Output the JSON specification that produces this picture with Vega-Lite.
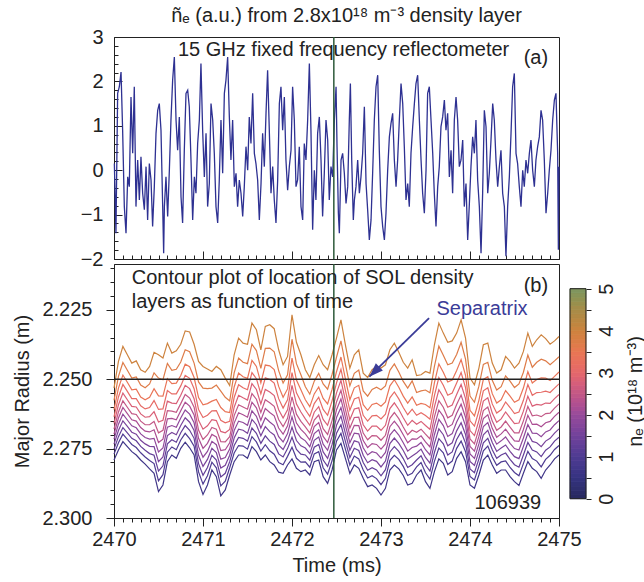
{
"$schema":"https://vega.github.io/schema/vega-lite/v6.json",
"padding":{"left":12,"top":5,"right":0,"bottom":0},
"spacing":5,
"bounds":"flush",
"config":{
 "font":"Liberation Sans",
 "view":{"stroke":"#222","strokeWidth":1},
 "axis":{"labelFont":"Liberation Sans","labelFontSize":20,"labelColor":"#222","titleFont":"Liberation Sans","titleFontSize":20,"titleFontWeight":"normal","titleColor":"#222","domainColor":"#222","tickColor":"#222","grid":false,"labelOverlap":false,"labelBound":false,"labelFlush":false},
 "title":{"font":"Liberation Sans","fontSize":20,"fontWeight":"normal","color":"#222"},
 "text":{"font":"Liberation Sans","fontSize":20,"color":"#222"}
},
"datasets":{
"sig":[
{"t":2470.004,"v":0.15},{"t":2470.022,"v":-1.42},{"t":2470.041,"v":1.73},{"t":2470.06,"v":1.88},{"t":2470.079,"v":2.21},{"t":2470.097,"v":0.9},{"t":2470.116,"v":-0.82},{"t":2470.135,"v":-1.42},{"t":2470.154,"v":-0.15},{"t":2470.172,"v":-0.37},{"t":2470.191,"v":1.65},{"t":2470.21,"v":0.38},{"t":2470.228,"v":1.88},{"t":2470.247,"v":-0.82},{"t":2470.266,"v":0.23},{"t":2470.285,"v":-0.67},{"t":2470.303,"v":0.3},{"t":2470.322,"v":-0.52},{"t":2470.341,"v":-0.89},{"t":2470.36,"v":0.08},{"t":2470.378,"v":-1.12},{"t":2470.397,"v":0.15},{"t":2470.416,"v":-0.22},{"t":2470.434,"v":-1.27},{"t":2470.453,"v":-0.37},{"t":2470.472,"v":0.83},{"t":2470.491,"v":1.35},{"t":2470.509,"v":1.5},{"t":2470.528,"v":0.9},{"t":2470.547,"v":-0.82},{"t":2470.558,"v":-1.87},{"t":2470.566,"v":-0.82},{"t":2470.584,"v":-0.15},{"t":2470.603,"v":-1.04},{"t":2470.622,"v":0},{"t":2470.64,"v":1.13},{"t":2470.659,"v":2.03},{"t":2470.678,"v":2.55},{"t":2470.697,"v":1.13},{"t":2470.715,"v":0.45},{"t":2470.734,"v":1.2},{"t":2470.753,"v":-0.6},{"t":2470.771,"v":-1.19},{"t":2470.79,"v":0.45},{"t":2470.809,"v":1.73},{"t":2470.828,"v":1.8},{"t":2470.846,"v":1.43},{"t":2470.865,"v":0.23},{"t":2470.884,"v":-1.12},{"t":2470.903,"v":-0.15},{"t":2470.921,"v":-0.52},{"t":2470.94,"v":0.6},{"t":2470.959,"v":1.13},{"t":2470.977,"v":2.4},{"t":2470.996,"v":0.9},{"t":2471.015,"v":-0.15},{"t":2471.034,"v":0.83},{"t":2471.052,"v":-0.82},{"t":2471.071,"v":-0.3},{"t":2471.09,"v":1.5},{"t":2471.109,"v":1.13},{"t":2471.127,"v":0.38},{"t":2471.146,"v":-0.82},{"t":2471.165,"v":-1.19},{"t":2471.183,"v":-0.22},{"t":2471.202,"v":1.13},{"t":2471.221,"v":-0.07},{"t":2471.24,"v":1.73},{"t":2471.258,"v":2.03},{"t":2471.277,"v":2.55},{"t":2471.296,"v":1.2},{"t":2471.314,"v":0.23},{"t":2471.333,"v":1.13},{"t":2471.352,"v":-0.37},{"t":2471.371,"v":-0.07},{"t":2471.389,"v":-0.82},{"t":2471.408,"v":-0.22},{"t":2471.427,"v":-0.52},{"t":2471.446,"v":-1.04},{"t":2471.464,"v":-0.37},{"t":2471.483,"v":0.53},{"t":2471.502,"v":0},{"t":2471.52,"v":1.2},{"t":2471.539,"v":0.6},{"t":2471.558,"v":1.73},{"t":2471.577,"v":0.38},{"t":2471.595,"v":0.15},{"t":2471.614,"v":-0.22},{"t":2471.633,"v":-1.12},{"t":2471.652,"v":-0.3},{"t":2471.67,"v":0.83},{"t":2471.689,"v":0.08},{"t":2471.708,"v":1.28},{"t":2471.726,"v":2.25},{"t":2471.745,"v":0.9},{"t":2471.764,"v":-0.52},{"t":2471.783,"v":0.08},{"t":2471.801,"v":-0.67},{"t":2471.82,"v":-1.19},{"t":2471.839,"v":-0.22},{"t":2471.858,"v":1.5},{"t":2471.876,"v":1.88},{"t":2471.895,"v":0.9},{"t":2471.914,"v":1.65},{"t":2471.932,"v":0.23},{"t":2471.951,"v":-0.45},{"t":2471.97,"v":0.08},{"t":2471.989,"v":0.45},{"t":2472.007,"v":1.88},{"t":2472.026,"v":1.13},{"t":2472.045,"v":-0.37},{"t":2472.063,"v":-0.22},{"t":2472.082,"v":0.53},{"t":2472.101,"v":-0.82},{"t":2472.12,"v":-1.12},{"t":2472.138,"v":0.6},{"t":2472.157,"v":0.23},{"t":2472.176,"v":1.13},{"t":2472.195,"v":2.4},{"t":2472.213,"v":0.9},{"t":2472.232,"v":-1.34},{"t":2472.251,"v":0},{"t":2472.269,"v":-0.67},{"t":2472.288,"v":0.83},{"t":2472.307,"v":1.2},{"t":2472.326,"v":0.23},{"t":2472.344,"v":-1.04},{"t":2472.363,"v":-0.07},{"t":2472.382,"v":1.13},{"t":2472.401,"v":0.68},{"t":2472.419,"v":-0.67},{"t":2472.438,"v":0.08},
{"t":2472.457,"v":-0.15},{"t":2472.476,"v":1.13},{"t":2472.495,"v":1.88},{"t":2472.506,"v":0.53},{"t":2472.521,"v":-0.97},{"t":2472.532,"v":-1.42},{"t":2472.551,"v":0.23},{"t":2472.569,"v":0.38},{"t":2472.588,"v":-0.07},{"t":2472.607,"v":-0.75},{"t":2472.626,"v":-0.37},{"t":2472.644,"v":1.13},{"t":2472.656,"v":1.95},{"t":2472.671,"v":0.23},{"t":2472.689,"v":-1.12},{"t":2472.701,"v":-0.67},{"t":2472.719,"v":-0.37},{"t":2472.738,"v":0.23},{"t":2472.757,"v":-0.52},{"t":2472.775,"v":-0.15},{"t":2472.794,"v":0.38},{"t":2472.813,"v":1.43},{"t":2472.832,"v":-0.3},{"t":2472.85,"v":-0.89},{"t":2472.869,"v":-1.57},{"t":2472.888,"v":-1.12},{"t":2472.906,"v":-0.07},{"t":2472.925,"v":1.13},{"t":2472.944,"v":1.88},{"t":2472.963,"v":2.14},{"t":2472.981,"v":0.45},{"t":2473.0,"v":-0.82},{"t":2473.019,"v":-1.27},{"t":2473.038,"v":-1.57},{"t":2473.056,"v":-0.97},{"t":2473.075,"v":0},{"t":2473.094,"v":0.75},{"t":2473.112,"v":1.05},{"t":2473.131,"v":1.28},{"t":2473.15,"v":0.23},{"t":2473.169,"v":-0.37},{"t":2473.187,"v":0.23},{"t":2473.206,"v":1.13},{"t":2473.225,"v":1.95},{"t":2473.244,"v":1.5},{"t":2473.262,"v":0.53},{"t":2473.281,"v":-0.67},{"t":2473.3,"v":-0.3},{"t":2473.318,"v":-0.82},{"t":2473.337,"v":0.38},{"t":2473.356,"v":0.98},{"t":2473.375,"v":1.5},{"t":2473.393,"v":1.95},{"t":2473.412,"v":2.14},{"t":2473.431,"v":1.13},{"t":2473.45,"v":0.23},{"t":2473.468,"v":-0.52},{"t":2473.487,"v":-0.97},{"t":2473.506,"v":0},{"t":2473.524,"v":1.73},{"t":2473.543,"v":1.88},{"t":2473.562,"v":1.13},{"t":2473.581,"v":0.38},{"t":2473.599,"v":-0.52},{"t":2473.618,"v":-1.27},{"t":2473.637,"v":-0.37},{"t":2473.655,"v":0.08},{"t":2473.674,"v":0.98},{"t":2473.693,"v":1.2},{"t":2473.712,"v":1.58},{"t":2473.73,"v":0.9},{"t":2473.749,"v":1.28},{"t":2473.768,"v":-0.15},{"t":2473.787,"v":0.45},{"t":2473.805,"v":-0.52},{"t":2473.824,"v":1.13},{"t":2473.843,"v":1.65},{"t":2473.861,"v":1.13},{"t":2473.88,"v":0.08},{"t":2473.899,"v":0.23},{"t":2473.918,"v":0.68},{"t":2473.936,"v":-0.82},{"t":2473.955,"v":-0.3},{"t":2473.974,"v":-1.57},{"t":2473.993,"v":-0.75},{"t":2474.011,"v":0.08},{"t":2474.03,"v":0.75},{"t":2474.049,"v":0.38},{"t":2474.067,"v":1.13},{"t":2474.086,"v":-0.22},{"t":2474.105,"v":-0.82},{"t":2474.124,"v":-1.87},{"t":2474.142,"v":-0.52},{"t":2474.161,"v":1.35},{"t":2474.18,"v":0.98},{"t":2474.199,"v":-0.52},{"t":2474.217,"v":-0.07},{"t":2474.236,"v":0.68},{"t":2474.255,"v":1.5},{"t":2474.273,"v":1.13},{"t":2474.292,"v":0.23},{"t":2474.311,"v":-0.37},{"t":2474.33,"v":0.08},{"t":2474.348,"v":0.45},{"t":2474.367,"v":-0.52},{"t":2474.386,"v":-0.82},{"t":2474.404,"v":-1.94},{"t":2474.423,"v":-0.82},{"t":2474.442,"v":-0.15},{"t":2474.461,"v":0.83},{"t":2474.479,"v":1.88},{"t":2474.498,"v":2.18},{"t":2474.517,"v":0.38},{"t":2474.535,"v":0.15},{"t":2474.554,"v":-0.37},{"t":2474.573,"v":-0.82},{"t":2474.592,"v":0},{"t":2474.61,"v":-0.37},{"t":2474.629,"v":0.23},{"t":2474.648,"v":-0.07},{"t":2474.667,"v":0.38},{"t":2474.685,"v":0.68},{"t":2474.704,"v":0},{"t":2474.723,"v":-0.37},{"t":2474.741,"v":0.23},{"t":2474.76,"v":0.53},{"t":2474.779,"v":0.75},{"t":2474.798,"v":1.35},{"t":2474.816,"v":1.13},{"t":2474.835,"v":0.23},{"t":2474.854,"v":-0.97},{"t":2474.873,"v":-0.52},{"t":2474.891,"v":0},{"t":2474.91,"v":0.45},{"t":2474.929,"v":1.13},{"t":2474.948,"v":1.58},{"t":2474.966,"v":1.73},{"t":2474.985,"v":0.38},{"t":2474.993,"v":-1.79},{"t":2475.0,"v":0.08}
],
"cont":[
{"t":2470,"a":2.2532,"b":2.2576,"c":2.2610,"d":2.2636,"e":2.2659,"f":2.2680,"g":2.2698,"h":2.2716,"i":2.2734,"j":2.2752,"k":2.2770,"l":2.2791},
{"t":2470.05,"a":2.2436,"b":2.2490,"c":2.2532,"d":2.2564,"e":2.2592,"f":2.2618,"g":2.2640,"h":2.2662,"i":2.2685,"j":2.2707,"k":2.2729,"l":2.2755},
{"t":2470.1,"a":2.2382,"b":2.2440,"c":2.2485,"d":2.2519,"e":2.2550,"f":2.2578,"g":2.2602,"h":2.2626,"i":2.2650,"j":2.2674,"k":2.2698,"l":2.2725},
{"t":2470.15,"a":2.2412,"b":2.2468,"c":2.2511,"d":2.2544,"e":2.2574,"f":2.2601,"g":2.2624,"h":2.2647,"i":2.2670,"j":2.2693,"k":2.2717,"l":2.2743},
{"t":2470.2,"a":2.2442,"b":2.2496,"c":2.2538,"d":2.2570,"e":2.2598,"f":2.2624,"g":2.2646,"h":2.2668,"i":2.2691,"j":2.2713,"k":2.2735,"l":2.2761},
{"t":2470.25,"a":2.2434,"b":2.2492,"c":2.2536,"d":2.2570,"e":2.2600,"f":2.2627,"g":2.2651,"h":2.2675,"i":2.2698,"j":2.2722,"k":2.2746,"l":2.2773},
{"t":2470.3,"a":2.2466,"b":2.2521,"c":2.2564,"d":2.2596,"e":2.2625,"f":2.2651,"g":2.2674,"h":2.2697,"i":2.2720,"j":2.2742,"k":2.2765,"l":2.2791},
{"t":2470.35,"a":2.2475,"b":2.2531,"c":2.2574,"d":2.2607,"e":2.2637,"f":2.2664,"g":2.2687,"h":2.2710,"i":2.2733,"j":2.2756,"k":2.2780,"l":2.2806},
{"t":2470.4,"a":2.2454,"b":2.2517,"c":2.2565,"d":2.2602,"e":2.2635,"f":2.2664,"g":2.2690,"h":2.2716,"i":2.2742,"j":2.2768,"k":2.2793,"l":2.2823},
{"t":2470.45,"a":2.2403,"b":2.2477,"c":2.2534,"d":2.2577,"e":2.2617,"f":2.2652,"g":2.2682,"h":2.2713,"i":2.2743,"j":2.2774,"k":2.2804,"l":2.2839},
{"t":2470.5,"a":2.2412,"b":2.2496,"c":2.2560,"d":2.2609,"e":2.2654,"f":2.2693,"g":2.2728,"h":2.2762,"i":2.2797,"j":2.2831,"k":2.2866,"l":2.2905},
{"t":2470.55,"a":2.2424,"b":2.2502,"c":2.2561,"d":2.2607,"e":2.2648,"f":2.2684,"g":2.2716,"h":2.2748,"i":2.2780,"j":2.2812,"k":2.2844,"l":2.2881},
{"t":2470.6,"a":2.2370,"b":2.2443,"c":2.2498,"d":2.2541,"e":2.2579,"f":2.2613,"g":2.2643,"h":2.2673,"i":2.2703,"j":2.2733,"k":2.2763,"l":2.2797},
{"t":2470.65,"a":2.2406,"b":2.2468,"c":2.2516,"d":2.2553,"e":2.2586,"f":2.2615,"g":2.2641,"h":2.2667,"i":2.2692,"j":2.2718,"k":2.2744,"l":2.2773},
{"t":2470.7,"a":2.2398,"b":2.2464,"c":2.2514,"d":2.2553,"e":2.2588,"f":2.2619,"g":2.2646,"h":2.2673,"i":2.2700,"j":2.2727,"k":2.2754,"l":2.2785},
{"t":2470.75,"a":2.2374,"b":2.2438,"c":2.2487,"d":2.2524,"e":2.2558,"f":2.2588,"g":2.2614,"h":2.2640,"i":2.2667,"j":2.2693,"k":2.2719,"l":2.2749},
{"t":2470.8,"a":2.2326,"b":2.2394,"c":2.2446,"d":2.2486,"e":2.2522,"f":2.2555,"g":2.2583,"h":2.2611,"i":2.2639,"j":2.2667,"k":2.2695,"l":2.2727},
{"t":2470.85,"a":2.2330,"b":2.2401,"c":2.2455,"d":2.2497,"e":2.2534,"f":2.2568,"g":2.2597,"h":2.2626,"i":2.2655,"j":2.2684,"k":2.2714,"l":2.2747},
{"t":2470.9,"a":2.2374,"b":2.2442,"c":2.2494,"d":2.2534,"e":2.2570,"f":2.2601,"g":2.2629,"h":2.2657,"i":2.2685,"j":2.2713,"k":2.2741,"l":2.2773},
{"t":2470.95,"a":2.2436,"b":2.2510,"c":2.2566,"d":2.2609,"e":2.2648,"f":2.2683,"g":2.2713,"h":2.2743,"i":2.2774,"j":2.2804,"k":2.2834,"l":2.2869},
{"t":2471,"a":2.2454,"b":2.2532,"c":2.2592,"d":2.2638,"e":2.2680,"f":2.2717,"g":2.2749,"h":2.2781,"i":2.2814,"j":2.2846,"k":2.2878,"l":2.2915},
{"t":2471.05,"a":2.2463,"b":2.2534,"c":2.2588,"d":2.2630,"e":2.2668,"f":2.2701,"g":2.2731,"h":2.2760,"i":2.2789,"j":2.2818,"k":2.2848,"l":2.2881},
{"t":2471.1,"a":2.2472,"b":2.2532,"c":2.2579,"d":2.2614,"e":2.2646,"f":2.2674,"g":2.2699,"h":2.2724,"i":2.2749,"j":2.2774,"k":2.2799,"l":2.2827},
{"t":2471.15,"a":2.2454,"b":2.2521,"c":2.2573,"d":2.2613,"e":2.2649,"f":2.2680,"g":2.2708,"h":2.2736,"i":2.2764,"j":2.2791,"k":2.2819,"l":2.2851},
{"t":2471.2,"a":2.2466,"b":2.2543,"c":2.2602,"d":2.2648,"e":2.2688,"f":2.2725,"g":2.2757,"h":2.2788,"i":2.2820,"j":2.2852,"k":2.2884,"l":2.2920},
{"t":2471.25,"a":2.2496,"b":2.2565,"c":2.2617,"d":2.2657,"e":2.2693,"f":2.2726,"g":2.2754,"h":2.2782,"i":2.2810,"j":2.2839,"k":2.2867,"l":2.2899},
{"t":2471.3,"a":2.2523,"b":2.2578,"c":2.2620,"d":2.2652,"e":2.2681,"f":2.2707,"g":2.2729,"h":2.2752,"i":2.2774,"j":2.2797,"k":2.2819,"l":2.2845},
{"t":2471.35,"a":2.2412,"b":2.2477,"c":2.2528,"d":2.2566,"e":2.2601,"f":2.2631,"g":2.2658,"h":2.2685,"i":2.2712,"j":2.2739,"k":2.2766,"l":2.2797},
{"t":2471.4,"a":2.2352,"b":2.2424,"c":2.2478,"d":2.2520,"e":2.2558,"f":2.2592,"g":2.2621,"h":2.2651,"i":2.2680,"j":2.2710,"k":2.2739,"l":2.2773},
{"t":2471.45,"a":2.2370,"b":2.2439,"c":2.2491,"d":2.2531,"e":2.2567,"f":2.2600,"g":2.2628,"h":2.2656,"i":2.2684,"j":2.2713,"k":2.2741,"l":2.2773},
{"t":2471.5,"a":2.2374,"b":2.2444,"c":2.2497,"d":2.2538,"e":2.2575,"f":2.2608,"g":2.2637,"h":2.2666,"i":2.2695,"j":2.2723,"k":2.2752,"l":2.2785},
{"t":2471.55,"a":2.2298,"b":2.2374,"c":2.2432,"d":2.2476,"e":2.2516,"f":2.2552,"g":2.2583,"h":2.2614,"i":2.2645,"j":2.2676,"k":2.2707,"l":2.2743},
{"t":2471.6,"a":2.2322,"b":2.2397,"c":2.2454,"d":2.2498,"e":2.2537,"f":2.2572,"g":2.2603,"h":2.2634,"i":2.2664,"j":2.2695,"k":2.2726,"l":2.2761},
{"t":2471.65,"a":2.2394,"b":2.2461,"c":2.2513,"d":2.2553,"e":2.2589,"f":2.2620,"g":2.2648,"h":2.2676,"i":2.2704,"j":2.2731,"k":2.2759,"l":2.2791},
{"t":2471.7,"a":2.2310,"b":2.2389,"c":2.2449,"d":2.2495,"e":2.2537,"f":2.2574,"g":2.2606,"h":2.2639,"i":2.2671,"j":2.2704,"k":2.2736,"l":2.2773},
{"t":2471.75,"a":2.2304,"b":2.2388,"c":2.2452,"d":2.2501,"e":2.2546,"f":2.2585,"g":2.2620,"h":2.2654,"i":2.2689,"j":2.2723,"k":2.2758,"l":2.2797},
{"t":2471.8,"a":2.2318,"b":2.2401,"c":2.2465,"d":2.2514,"e":2.2559,"f":2.2598,"g":2.2632,"h":2.2667,"i":2.2701,"j":2.2735,"k":2.2770,"l":2.2809},
{"t":2471.85,"a":2.2394,"b":2.2469,"c":2.2526,"d":2.2570,"e":2.2610,"f":2.2645,"g":2.2676,"h":2.2707,"i":2.2738,"j":2.2769,"k":2.2800,"l":2.2835},
{"t":2471.9,"a":2.2448,"b":2.2514,"c":2.2565,"d":2.2604,"e":2.2640,"f":2.2671,"g":2.2698,"h":2.2726,"i":2.2753,"j":2.2780,"k":2.2808,"l":2.2839},
{"t":2471.95,"a":2.2418,"b":2.2484,"c":2.2535,"d":2.2574,"e":2.2610,"f":2.2641,"g":2.2668,"h":2.2696,"i":2.2723,"j":2.2750,"k":2.2778,"l":2.2809},
{"t":2472,"a":2.2268,"b":2.2356,"c":2.2424,"d":2.2476,"e":2.2522,"f":2.2564,"g":2.2600,"h":2.2636,"i":2.2673,"j":2.2709,"k":2.2745,"l":2.2787},
{"t":2472.05,"a":2.2367,"b":2.2444,"c":2.2503,"d":2.2549,"e":2.2589,"f":2.2626,"g":2.2658,"h":2.2689,"i":2.2721,"j":2.2753,"k":2.2785,"l":2.2821},
{"t":2472.1,"a":2.2412,"b":2.2484,"c":2.2538,"d":2.2580,"e":2.2618,"f":2.2652,"g":2.2681,"h":2.2711,"i":2.2740,"j":2.2770,"k":2.2799,"l":2.2833},
{"t":2472.15,"a":2.2466,"b":2.2527,"c":2.2574,"d":2.2610,"e":2.2643,"f":2.2672,"g":2.2697,"h":2.2722,"i":2.2748,"j":2.2773,"k":2.2798,"l":2.2827},
{"t":2472.2,"a":2.2494,"b":2.2554,"c":2.2599,"d":2.2634,"e":2.2666,"f":2.2694,"g":2.2719,"h":2.2743,"i":2.2768,"j":2.2792,"k":2.2817,"l":2.2845},
{"t":2472.25,"a":2.2448,"b":2.2507,"c":2.2553,"d":2.2588,"e":2.2619,"f":2.2647,"g":2.2671,"h":2.2696,"i":2.2720,"j":2.2745,"k":2.2769,"l":2.2797},
{"t":2472.3,"a":2.2415,"b":2.2479,"c":2.2528,"d":2.2565,"e":2.2599,"f":2.2629,"g":2.2656,"h":2.2682,"i":2.2708,"j":2.2735,"k":2.2761,"l":2.2791},
{"t":2472.35,"a":2.2448,"b":2.2517,"c":2.2569,"d":2.2609,"e":2.2645,"f":2.2678,"g":2.2706,"h":2.2734,"i":2.2762,"j":2.2791,"k":2.2819,"l":2.2851},
{"t":2472.4,"a":2.2466,"b":2.2536,"c":2.2589,"d":2.2630,"e":2.2666,"f":2.2699,"g":2.2728,"h":2.2756,"i":2.2785,"j":2.2814,"k":2.2842,"l":2.2875},
{"t":2472.45,"a":2.2412,"b":2.2483,"c":2.2537,"d":2.2578,"e":2.2615,"f":2.2649,"g":2.2678,"h":2.2707,"i":2.2736,"j":2.2765,"k":2.2794,"l":2.2827},
{"t":2472.5,"a":2.2352,"b":2.2421,"c":2.2473,"d":2.2513,"e":2.2549,"f":2.2582,"g":2.2610,"h":2.2638,"i":2.2666,"j":2.2695,"k":2.2723,"l":2.2755},
{"t":2472.55,"a":2.2286,"b":2.2362,"c":2.2420,"d":2.2464,"e":2.2504,"f":2.2540,"g":2.2571,"h":2.2602,"i":2.2633,"j":2.2664,"k":2.2695,"l":2.2731},
{"t":2472.6,"a":2.2376,"b":2.2446,"c":2.2499,"d":2.2540,"e":2.2576,"f":2.2609,"g":2.2638,"h":2.2666,"i":2.2695,"j":2.2724,"k":2.2752,"l":2.2785},
{"t":2472.65,"a":2.2460,"b":2.2524,"c":2.2574,"d":2.2612,"e":2.2646,"f":2.2676,"g":2.2703,"h":2.2729,"i":2.2756,"j":2.2782,"k":2.2809,"l":2.2839},
{"t":2472.7,"a":2.2412,"b":2.2479,"c":2.2531,"d":2.2571,"e":2.2607,"f":2.2638,"g":2.2666,"h":2.2694,"i":2.2722,"j":2.2749,"k":2.2777,"l":2.2809},
{"t":2472.75,"a":2.2394,"b":2.2467,"c":2.2522,"d":2.2565,"e":2.2603,"f":2.2637,"g":2.2667,"h":2.2697,"i":2.2727,"j":2.2757,"k":2.2787,"l":2.2821},
{"t":2472.8,"a":2.2478,"b":2.2542,"c":2.2592,"d":2.2630,"e":2.2664,"f":2.2694,"g":2.2721,"h":2.2747,"i":2.2774,"j":2.2800,"k":2.2827,"l":2.2857},
{"t":2472.85,"a":2.2494,"b":2.2561,"c":2.2612,"d":2.2651,"e":2.2687,"f":2.2718,"g":2.2746,"h":2.2773,"i":2.2801,"j":2.2828,"k":2.2856,"l":2.2887},
{"t":2472.9,"a":2.2466,"b":2.2537,"c":2.2591,"d":2.2632,"e":2.2669,"f":2.2703,"g":2.2732,"h":2.2761,"i":2.2790,"j":2.2819,"k":2.2848,"l":2.2881},
{"t":2472.95,"a":2.2454,"b":2.2529,"c":2.2586,"d":2.2630,"e":2.2669,"f":2.2704,"g":2.2735,"h":2.2766,"i":2.2796,"j":2.2827,"k":2.2858,"l":2.2893},
{"t":2473,"a":2.2460,"b":2.2538,"c":2.2597,"d":2.2643,"e":2.2684,"f":2.2720,"g":2.2752,"h":2.2784,"i":2.2816,"j":2.2848,"k":2.2880,"l":2.2917},
{"t":2473.05,"a":2.2448,"b":2.2524,"c":2.2582,"d":2.2626,"e":2.2666,"f":2.2702,"g":2.2733,"h":2.2764,"i":2.2795,"j":2.2826,"k":2.2857,"l":2.2893},
{"t":2473.1,"a":2.2394,"b":2.2468,"c":2.2524,"d":2.2567,"e":2.2606,"f":2.2641,"g":2.2671,"h":2.2701,"i":2.2732,"j":2.2762,"k":2.2792,"l":2.2827},
{"t":2473.15,"a":2.2370,"b":2.2445,"c":2.2502,"d":2.2546,"e":2.2585,"f":2.2620,"g":2.2651,"h":2.2682,"i":2.2712,"j":2.2743,"k":2.2774,"l":2.2809},
{"t":2473.2,"a":2.2403,"b":2.2474,"c":2.2529,"d":2.2571,"e":2.2609,"f":2.2642,"g":2.2672,"h":2.2701,"i":2.2731,"j":2.2760,"k":2.2789,"l":2.2823},
{"t":2473.25,"a":2.2439,"b":2.2508,"c":2.2561,"d":2.2602,"e":2.2639,"f":2.2672,"g":2.2700,"h":2.2729,"i":2.2757,"j":2.2786,"k":2.2814,"l":2.2847},
{"t":2473.3,"a":2.2460,"b":2.2532,"c":2.2586,"d":2.2628,"e":2.2666,"f":2.2700,"g":2.2729,"h":2.2759,"i":2.2788,"j":2.2818,"k":2.2847,"l":2.2881},
{"t":2473.35,"a":2.2430,"b":2.2506,"c":2.2564,"d":2.2608,"e":2.2648,"f":2.2684,"g":2.2715,"h":2.2746,"i":2.2777,"j":2.2808,"k":2.2839,"l":2.2875},
{"t":2473.4,"a":2.2487,"b":2.2548,"c":2.2594,"d":2.2630,"e":2.2662,"f":2.2691,"g":2.2716,"h":2.2741,"i":2.2766,"j":2.2791,"k":2.2816,"l":2.2845},
{"t":2473.45,"a":2.2484,"b":2.2542,"c":2.2587,"d":2.2621,"e":2.2652,"f":2.2680,"g":2.2704,"h":2.2728,"i":2.2752,"j":2.2776,"k":2.2800,"l":2.2827},
{"t":2473.5,"a":2.2472,"b":2.2539,"c":2.2591,"d":2.2631,"e":2.2667,"f":2.2698,"g":2.2726,"h":2.2754,"i":2.2782,"j":2.2809,"k":2.2837,"l":2.2869},
{"t":2473.55,"a":2.2478,"b":2.2549,"c":2.2603,"d":2.2644,"e":2.2681,"f":2.2715,"g":2.2744,"h":2.2773,"i":2.2802,"j":2.2831,"k":2.2860,"l":2.2893},
{"t":2473.6,"a":2.2376,"b":2.2454,"c":2.2513,"d":2.2559,"e":2.2600,"f":2.2636,"g":2.2668,"h":2.2700,"i":2.2732,"j":2.2764,"k":2.2796,"l":2.2833},
{"t":2473.65,"a":2.2298,"b":2.2381,"c":2.2445,"d":2.2494,"e":2.2538,"f":2.2577,"g":2.2611,"h":2.2645,"i":2.2679,"j":2.2714,"k":2.2748,"l":2.2787},
{"t":2473.7,"a":2.2334,"b":2.2414,"c":2.2475,"d":2.2522,"e":2.2564,"f":2.2601,"g":2.2634,"h":2.2667,"i":2.2700,"j":2.2733,"k":2.2765,"l":2.2803},
{"t":2473.75,"a":2.2367,"b":2.2448,"c":2.2510,"d":2.2558,"e":2.2601,"f":2.2639,"g":2.2673,"h":2.2706,"i":2.2740,"j":2.2773,"k":2.2807,"l":2.2845},
{"t":2473.8,"a":2.2362,"b":2.2442,"c":2.2503,"d":2.2550,"e":2.2593,"f":2.2630,"g":2.2663,"h":2.2696,"i":2.2729,"j":2.2762,"k":2.2795,"l":2.2833},
{"t":2473.85,"a":2.2334,"b":2.2411,"c":2.2469,"d":2.2514,"e":2.2555,"f":2.2591,"g":2.2623,"h":2.2654,"i":2.2686,"j":2.2717,"k":2.2749,"l":2.2785},
{"t":2473.9,"a":2.2286,"b":2.2367,"c":2.2429,"d":2.2476,"e":2.2519,"f":2.2557,"g":2.2590,"h":2.2623,"i":2.2657,"j":2.2690,"k":2.2723,"l":2.2761},
{"t":2473.95,"a":2.2352,"b":2.2428,"c":2.2486,"d":2.2530,"e":2.2570,"f":2.2606,"g":2.2637,"h":2.2668,"i":2.2699,"j":2.2730,"k":2.2761,"l":2.2797},
{"t":2474,"a":2.2496,"b":2.2561,"c":2.2612,"d":2.2650,"e":2.2685,"f":2.2715,"g":2.2742,"h":2.2769,"i":2.2796,"j":2.2823,"k":2.2850,"l":2.2881},
{"t":2474.05,"a":2.2520,"b":2.2583,"c":2.2632,"d":2.2669,"e":2.2703,"f":2.2733,"g":2.2759,"h":2.2785,"i":2.2811,"j":2.2837,"k":2.2863,"l":2.2893},
{"t":2474.1,"a":2.2460,"b":2.2525,"c":2.2576,"d":2.2614,"e":2.2649,"f":2.2679,"g":2.2706,"h":2.2733,"i":2.2760,"j":2.2787,"k":2.2814,"l":2.2845},
{"t":2474.15,"a":2.2376,"b":2.2447,"c":2.2501,"d":2.2542,"e":2.2579,"f":2.2613,"g":2.2642,"h":2.2671,"i":2.2700,"j":2.2729,"k":2.2758,"l":2.2791},
{"t":2474.2,"a":2.2370,"b":2.2439,"c":2.2491,"d":2.2531,"e":2.2567,"f":2.2600,"g":2.2628,"h":2.2656,"i":2.2684,"j":2.2713,"k":2.2741,"l":2.2773},
{"t":2474.25,"a":2.2442,"b":2.2504,"c":2.2552,"d":2.2589,"e":2.2622,"f":2.2651,"g":2.2677,"h":2.2703,"i":2.2728,"j":2.2754,"k":2.2780,"l":2.2809},
{"t":2474.3,"a":2.2478,"b":2.2539,"c":2.2586,"d":2.2622,"e":2.2655,"f":2.2684,"g":2.2709,"h":2.2734,"i":2.2760,"j":2.2785,"k":2.2810,"l":2.2839},
{"t":2474.35,"a":2.2466,"b":2.2527,"c":2.2574,"d":2.2610,"e":2.2643,"f":2.2672,"g":2.2697,"h":2.2722,"i":2.2748,"j":2.2773,"k":2.2798,"l":2.2827},
{"t":2474.4,"a":2.2418,"b":2.2488,"c":2.2541,"d":2.2582,"e":2.2618,"f":2.2651,"g":2.2680,"h":2.2708,"i":2.2737,"j":2.2766,"k":2.2794,"l":2.2827},
{"t":2474.45,"a":2.2436,"b":2.2507,"c":2.2561,"d":2.2602,"e":2.2639,"f":2.2673,"g":2.2702,"h":2.2731,"i":2.2760,"j":2.2789,"k":2.2818,"l":2.2851},
{"t":2474.5,"a":2.2460,"b":2.2530,"c":2.2583,"d":2.2624,"e":2.2660,"f":2.2693,"g":2.2722,"h":2.2750,"i":2.2779,"j":2.2808,"k":2.2836,"l":2.2869},
{"t":2474.55,"a":2.2442,"b":2.2517,"c":2.2574,"d":2.2618,"e":2.2658,"f":2.2693,"g":2.2724,"h":2.2755,"i":2.2786,"j":2.2817,"k":2.2848,"l":2.2883},
{"t":2474.6,"a":2.2400,"b":2.2475,"c":2.2532,"d":2.2576,"e":2.2615,"f":2.2650,"g":2.2681,"h":2.2712,"i":2.2742,"j":2.2773,"k":2.2804,"l":2.2839},
{"t":2474.65,"a":2.2334,"b":2.2413,"c":2.2473,"d":2.2519,"e":2.2561,"f":2.2598,"g":2.2630,"h":2.2663,"i":2.2695,"j":2.2728,"k":2.2760,"l":2.2797},
{"t":2474.7,"a":2.2382,"b":2.2457,"c":2.2514,"d":2.2558,"e":2.2597,"f":2.2632,"g":2.2663,"h":2.2694,"i":2.2724,"j":2.2755,"k":2.2786,"l":2.2821},
{"t":2474.75,"a":2.2358,"b":2.2439,"c":2.2501,"d":2.2548,"e":2.2591,"f":2.2629,"g":2.2662,"h":2.2695,"i":2.2729,"j":2.2762,"k":2.2795,"l":2.2833},
{"t":2474.8,"a":2.2340,"b":2.2428,"c":2.2495,"d":2.2547,"e":2.2593,"f":2.2635,"g":2.2671,"h":2.2707,"i":2.2743,"j":2.2779,"k":2.2816,"l":2.2857},
{"t":2474.85,"a":2.2354,"b":2.2434,"c":2.2496,"d":2.2543,"e":2.2586,"f":2.2624,"g":2.2657,"h":2.2690,"i":2.2723,"j":2.2756,"k":2.2789,"l":2.2827},
{"t":2474.9,"a":2.2374,"b":2.2448,"c":2.2505,"d":2.2548,"e":2.2587,"f":2.2622,"g":2.2652,"h":2.2683,"i":2.2713,"j":2.2744,"k":2.2774,"l":2.2809},
{"t":2474.95,"a":2.2362,"b":2.2434,"c":2.2490,"d":2.2532,"e":2.2570,"f":2.2604,"g":2.2634,"h":2.2664,"i":2.2694,"j":2.2723,"k":2.2753,"l":2.2787},
{"t":2475,"a":2.2346,"b":2.2419,"c":2.2474,"d":2.2517,"e":2.2555,"f":2.2589,"g":2.2619,"h":2.2649,"i":2.2679,"j":2.2709,"k":2.2739,"l":2.2773}
],
"levels":[{"key":"a","level":4.0},{"key":"b","level":3.7},{"key":"c","level":3.4},{"key":"d","level":3.1},{"key":"e","level":2.8},{"key":"f","level":2.5},{"key":"g","level":2.2},{"key":"h","level":1.9},{"key":"i","level":1.6},{"key":"j","level":1.3},{"key":"k","level":1.0},{"key":"l","level":0.7}],
"cbar":[
{"c0":0,"c1":0.1,"c":0.05},{"c0":0.1,"c1":0.2,"c":0.15},{"c0":0.2,"c1":0.3,"c":0.25},{"c0":0.3,"c1":0.4,"c":0.35},{"c0":0.4,"c1":0.5,"c":0.45},{"c0":0.5,"c1":0.6,"c":0.55},{"c0":0.6,"c1":0.7,"c":0.65},{"c0":0.7,"c1":0.8,"c":0.75},{"c0":0.8,"c1":0.9,"c":0.85},{"c0":0.9,"c1":1.0,"c":0.95},
{"c0":1.0,"c1":1.1,"c":1.05},{"c0":1.1,"c1":1.2,"c":1.15},{"c0":1.2,"c1":1.3,"c":1.25},{"c0":1.3,"c1":1.4,"c":1.35},{"c0":1.4,"c1":1.5,"c":1.45},{"c0":1.5,"c1":1.6,"c":1.55},{"c0":1.6,"c1":1.7,"c":1.65},{"c0":1.7,"c1":1.8,"c":1.75},{"c0":1.8,"c1":1.9,"c":1.85},{"c0":1.9,"c1":2.0,"c":1.95},
{"c0":2.0,"c1":2.1,"c":2.05},{"c0":2.1,"c1":2.2,"c":2.15},{"c0":2.2,"c1":2.3,"c":2.25},{"c0":2.3,"c1":2.4,"c":2.35},{"c0":2.4,"c1":2.5,"c":2.45},{"c0":2.5,"c1":2.6,"c":2.55},{"c0":2.6,"c1":2.7,"c":2.65},{"c0":2.7,"c1":2.8,"c":2.75},{"c0":2.8,"c1":2.9,"c":2.85},{"c0":2.9,"c1":3.0,"c":2.95},
{"c0":3.0,"c1":3.1,"c":3.05},{"c0":3.1,"c1":3.2,"c":3.15},{"c0":3.2,"c1":3.3,"c":3.25},{"c0":3.3,"c1":3.4,"c":3.35},{"c0":3.4,"c1":3.5,"c":3.45},{"c0":3.5,"c1":3.6,"c":3.55},{"c0":3.6,"c1":3.7,"c":3.65},{"c0":3.7,"c1":3.8,"c":3.75},{"c0":3.8,"c1":3.9,"c":3.85},{"c0":3.9,"c1":4.0,"c":3.95},
{"c0":4.0,"c1":4.1,"c":4.05},{"c0":4.1,"c1":4.2,"c":4.15},{"c0":4.2,"c1":4.3,"c":4.25},{"c0":4.3,"c1":4.4,"c":4.35},{"c0":4.4,"c1":4.5,"c":4.45},{"c0":4.5,"c1":4.6,"c":4.55},{"c0":4.6,"c1":4.7,"c":4.65},{"c0":4.7,"c1":4.8,"c":4.75},{"c0":4.8,"c1":4.9,"c":4.85},{"c0":4.9,"c1":5.0,"c":4.95}
]
},
"vconcat":[
{
 "width":445,"height":222,
 "title":{"text":"ñₑ (a.u.) from 2.8x10¹⁸ m⁻³ density layer","offset":1,"anchor":"middle","dx":10},
 "layer":[
  {"data":{"name":"sig"},
   "mark":{"type":"line","color":"#2e3192","strokeWidth":1.3},
   "encoding":{
    "x":{"field":"t","type":"quantitative","scale":{"domain":[2470,2475],"nice":false,"zero":false},
     "axis":{"orient":"bottom","title":null,"labels":false,"values":[2470,2471,2472,2473,2474,2475],"tickSize":-8}},
    "y":{"field":"v","type":"quantitative","scale":{"domain":[-2,3],"nice":false,"zero":false},
     "axis":{"orient":"left","title":null,"values":[-2,-1,0,1,2,3],"format":"d","labelPadding":19,"tickSize":-8}}
   }},
  {"data":{"values":[{}]},"mark":{"type":"rule","color":"#2d5a3a","strokeWidth":1.5},
   "encoding":{"x":{"datum":2472.47,"type":"quantitative","scale":{"domain":[2470,2475],"nice":false,"zero":false},"axis":null}}},
  {"data":{"values":[{"t":2472.58,"v":2.7,"s":"15 GHz fixed frequency reflectometer"},{"t":2474.74,"v":2.53,"s":"(a)"}]},
   "mark":{"type":"text","align":"center","baseline":"middle","fontSize":20,"color":"#222"},
   "encoding":{"x":{"field":"t","type":"quantitative","scale":{"domain":[2470,2475],"nice":false,"zero":false},
     "axis":{"orient":"bottom","title":null,"labels":false,"domain":false,"tickSize":-4,
      "values":[2470.1,2470.2,2470.3,2470.4,2470.5,2470.6,2470.7,2470.8,2470.9,2471.1,2471.2,2471.3,2471.4,2471.5,2471.6,2471.7,2471.8,2471.9,2472.1,2472.2,2472.3,2472.4,2472.5,2472.6,2472.7,2472.8,2472.9,2473.1,2473.2,2473.3,2473.4,2473.5,2473.6,2473.7,2473.8,2473.9,2474.1,2474.2,2474.3,2474.4,2474.5,2474.6,2474.7,2474.8,2474.9]}},
    "y":{"field":"v","type":"quantitative","scale":{"domain":[-2,3],"nice":false,"zero":false},
     "axis":{"orient":"left","title":null,"labels":false,"domain":false,"tickSize":-4,
      "values":[-1.8,-1.6,-1.4,-1.2,-0.8,-0.6,-0.4,-0.2,0.2,0.4,0.6,0.8,1.2,1.4,1.6,1.8,2.2,2.4,2.6,2.8]}},
    "text":{"field":"s"}}}
 ],
 "resolve":{"axis":{"x":"independent","y":"independent"}}
},
{
 "width":445,"height":254,
 "layer":[
   {"data":{"name":"cont"},
    "transform":[{"fold":["a","b","c","d","e","f","g","h","i","j","k","l"],"as":["key","r"]},
     {"lookup":"key","from":{"data":{"name":"levels"},"key":"key","fields":["level"]}}],
    "mark":{"type":"line","strokeWidth":1.2},
    "encoding":{
     "x":{"field":"t","type":"quantitative","scale":{"domain":[2470,2475],"nice":false,"zero":false},
      "axis":{"orient":"bottom","title":"Time (ms)","titlePadding":6,"format":"d","labelPadding":3,"values":[2470,2471,2472,2473,2474,2475],"tickSize":8}},
     "y":{"field":"r","type":"quantitative","scale":{"domain":[2.2085,2.3],"reverse":true,"nice":false,"zero":false},
      "axis":{"orient":"left","title":"Major Radius  (m)","titlePadding":9,"format":".3f","labelPadding":14,"values":[2.225,2.25,2.275,2.3],"tickSize":8}},
     "color":{"field":"level","type":"quantitative","legend":null,
      "scale":{"domain":[0,0.5,1,1.5,2,2.5,3,3.5,4,4.5,5],"range":["#27285e","#363381","#4e3b92","#71429b","#974b9b","#c25886","#e4696b","#e97752","#cd833f","#a88b49","#7c9662"]}},
     "detail":{"field":"key","type":"nominal"}
    }},
   {"data":{"values":[{}]},"mark":{"type":"rule","color":"#222","strokeWidth":1.6},
    "encoding":{"y":{"datum":2.25,"type":"quantitative","scale":{"domain":[2.2085,2.3],"reverse":true,"nice":false,"zero":false},"axis":null}}},
   {"data":{"values":[{}]},"mark":{"type":"rule","color":"#2d5a3a","strokeWidth":1.5},
    "encoding":{"x":{"datum":2472.47,"type":"quantitative","scale":{"domain":[2470,2475],"nice":false,"zero":false},"axis":null}}},
   {"data":{"values":[{"t":2470.2,"r":2.2135,"s":"Contour plot of location of SOL density"},{"t":2470.2,"r":2.2221,"s":"layers as function of time"}]},
    "mark":{"type":"text","align":"left","baseline":"middle","fontSize":20,"color":"#222"},
    "encoding":{"x":{"field":"t","type":"quantitative","scale":{"domain":[2470,2475],"nice":false,"zero":false},
      "axis":{"orient":"bottom","title":null,"labels":false,"domain":false,"tickSize":4,
       "values":[2470.1,2470.2,2470.3,2470.4,2470.5,2470.6,2470.7,2470.8,2470.9,2471.1,2471.2,2471.3,2471.4,2471.5,2471.6,2471.7,2471.8,2471.9,2472.1,2472.2,2472.3,2472.4,2472.5,2472.6,2472.7,2472.8,2472.9,2473.1,2473.2,2473.3,2473.4,2473.5,2473.6,2473.7,2473.8,2473.9,2474.1,2474.2,2474.3,2474.4,2474.5,2474.6,2474.7,2474.8,2474.9]}},
     "y":{"field":"r","type":"quantitative","scale":{"domain":[2.2085,2.3],"reverse":true,"nice":false,"zero":false},
      "axis":{"orient":"left","title":null,"labels":false,"domain":false,"tickSize":4,
       "values":[2.21,2.215,2.22,2.23,2.235,2.24,2.245,2.255,2.26,2.265,2.27,2.28,2.285,2.29,2.295]}},
     "text":{"field":"s"}}},
   {"data":{"values":[{"t":2474.74,"r":2.2163,"s":"(b)"}]},
    "mark":{"type":"text","align":"center","baseline":"middle","fontSize":20,"color":"#222"},
    "encoding":{"x":{"field":"t","type":"quantitative","scale":{"domain":[2470,2475],"nice":false,"zero":false},"axis":null},
     "y":{"field":"r","type":"quantitative","scale":{"domain":[2.2085,2.3],"reverse":true,"nice":false,"zero":false},"axis":null},
     "text":{"field":"s"}}},
   {"data":{"values":[{"t":2474.8,"r":2.2945,"s":"106939"}]},
    "mark":{"type":"text","align":"right","baseline":"middle","fontSize":20,"color":"#222"},
    "encoding":{"x":{"field":"t","type":"quantitative","scale":{"domain":[2470,2475],"nice":false,"zero":false},"axis":null},
     "y":{"field":"r","type":"quantitative","scale":{"domain":[2.2085,2.3],"reverse":true,"nice":false,"zero":false},"axis":null},
     "text":{"field":"s"}}},
   {"data":{"values":[{"t":2474.135,"r":2.2246,"s":"Separatrix"}]},
    "mark":{"type":"text","align":"center","baseline":"middle","fontSize":20,"color":"#3b3c98"},
    "encoding":{"x":{"field":"t","type":"quantitative","scale":{"domain":[2470,2475],"nice":false,"zero":false},"axis":null},
     "y":{"field":"r","type":"quantitative","scale":{"domain":[2.2085,2.3],"reverse":true,"nice":false,"zero":false},"axis":null},
     "text":{"field":"s"}}},
   {"data":{"values":[{"t1":2473.54,"r1":2.228,"t2":2472.869,"r2":2.2491}]},
    "mark":{"type":"rule","color":"#3b3c98","strokeWidth":1.8},
    "encoding":{"x":{"field":"t1","type":"quantitative","scale":{"domain":[2470,2475],"nice":false,"zero":false},"axis":null},
     "y":{"field":"r1","type":"quantitative","scale":{"domain":[2.2085,2.3],"reverse":true,"nice":false,"zero":false},"axis":null},
     "x2":{"field":"t2"},"y2":{"field":"r2"}}},
   {"data":{"values":[{"t2":2472.869,"r2":2.2491}]},
    "mark":{"type":"point","shape":"M0,0L-0.36,1L0.36,1Z","filled":true,"color":"#3b3c98","opacity":1,"size":784,"angle":225.6,"strokeWidth":0},
    "encoding":{"x":{"field":"t2","type":"quantitative","scale":{"domain":[2470,2475],"nice":false,"zero":false},"axis":null},
     "y":{"field":"r2","type":"quantitative","scale":{"domain":[2.2085,2.3],"reverse":true,"nice":false,"zero":false},"axis":null}}},
   {"data":{"name":"cbar"},
    "mark":{"type":"rect","strokeWidth":0.8},
    "encoding":{
     "x":{"datum":2475.124,"type":"quantitative","scale":{"domain":[2470,2475],"nice":false,"zero":false},"axis":null},
     "x2":{"datum":2475.303},
     "y":{"field":"c0","type":"quantitative","scale":{"domain":[-0.46,5.588],"nice":false,"zero":false},
      "axis":{"orient":"right","offset":27,"domain":false,"values":[0,0.5,1,1.5,2,2.5,3,3.5,4,4.5,5],"format":".0f",
       "tickSize":5,"labelPadding":5,"labelAngle":270,"labelAlign":"center","labelBaseline":"top",
       "labelExpr":"datum.value % 1 === 0 ? datum.label : ''",
       "title":"nₑ (10¹⁸ m⁻³)","titleAngle":270,"titleBaseline":"top","titlePadding":9}},
     "y2":{"field":"c1"},
     "color":{"field":"c","type":"quantitative","legend":null,
      "scale":{"domain":[0,0.5,1,1.5,2,2.5,3,3.5,4,4.5,5],"range":["#27285e","#363381","#4e3b92","#71429b","#974b9b","#c25886","#e4696b","#e97752","#cd833f","#a88b49","#7c9662"]}},
     "stroke":{"field":"c","type":"quantitative","legend":null,
      "scale":{"domain":[0,0.5,1,1.5,2,2.5,3,3.5,4,4.5,5],"range":["#27285e","#363381","#4e3b92","#71429b","#974b9b","#c25886","#e4696b","#e97752","#cd833f","#a88b49","#7c9662"]}}
    }},
   {"data":{"values":[{}]},
    "mark":{"type":"rect","filled":false,"stroke":"#222","strokeWidth":1},
    "encoding":{
     "x":{"datum":2475.124,"type":"quantitative","scale":{"domain":[2470,2475],"nice":false,"zero":false},"axis":null},
     "x2":{"datum":2475.303},
     "y":{"datum":0,"type":"quantitative","scale":{"domain":[-0.46,5.588],"nice":false,"zero":false},"axis":null},
     "y2":{"datum":5}}}
 ],
 "resolve":{"scale":{"y":"independent"},"axis":{"x":"independent","y":"independent"}}
}
]
}
